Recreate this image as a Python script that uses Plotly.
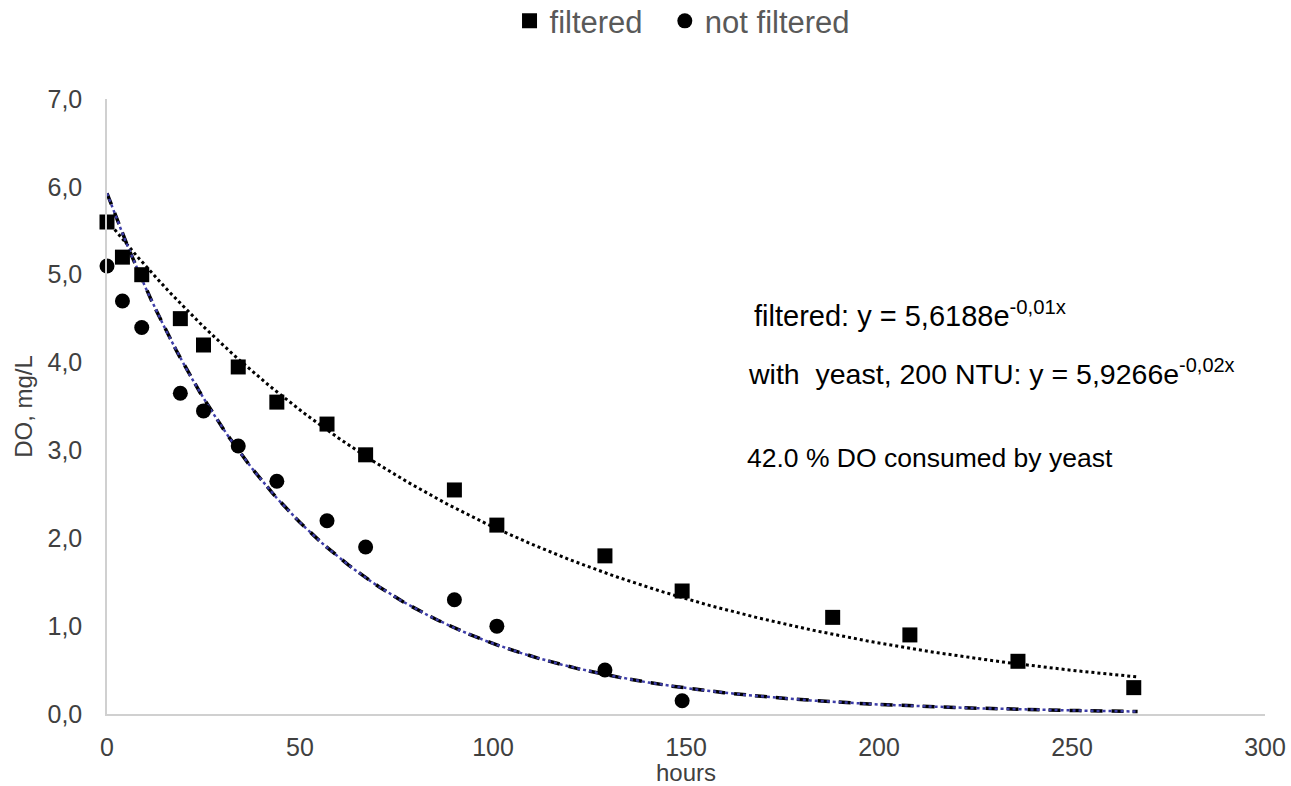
import numpy as np
import plotly.graph_objects as go

# ---- data ----
hours_filtered = [0, 4, 9, 19, 25, 34, 44, 57, 67, 90, 101, 129, 149, 188, 208, 236, 266]
do_filtered = [5.6, 5.2, 5.0, 4.5, 4.2, 3.95, 3.55, 3.3, 2.95, 2.55, 2.15, 1.8, 1.4, 1.1, 0.9, 0.6, 0.3]

hours_not_filtered = [0, 4, 9, 19, 25, 34, 44, 57, 67, 90, 101, 129, 149]
do_not_filtered = [5.1, 4.7, 4.4, 3.65, 3.45, 3.05, 2.65, 2.2, 1.9, 1.3, 1.0, 0.5, 0.15]

# exponential trendline coefficients (y = a * exp(-k x))
fit_filtered = (5.6188, 0.0097)
fit_yeast = (5.9266, 0.0200)
trend_x_range = (0, 267)

x_ticks = [0, 50, 100, 150, 200, 250, 300]
y_ticks = [0, 1, 2, 3, 4, 5, 6, 7]

FONT = "Liberation Sans, Arial, sans-serif"
GREY = "#595959"
DARK = "#404040"

tx = np.linspace(trend_x_range[0], trend_x_range[1], 300)
ty_f = fit_filtered[0] * np.exp(-fit_filtered[1] * tx)
ty_y = fit_yeast[0] * np.exp(-fit_yeast[1] * tx)

fig = go.Figure()

# trendlines
fig.add_trace(go.Scatter(x=tx, y=ty_f, mode="lines", showlegend=False, hoverinfo="skip",
                         line=dict(color="black", width=3, dash="dot")))
fig.add_trace(go.Scatter(x=tx, y=ty_y, mode="lines", showlegend=False, hoverinfo="skip",
                         line=dict(color="black", width=3.5, dash="12px,9px")))
fig.add_trace(go.Scatter(x=tx, y=ty_y, mode="lines", showlegend=False, hoverinfo="skip",
                         line=dict(color="#3d3da8", width=2.5, dash="dot")))

# data markers
fig.add_trace(go.Scatter(x=hours_filtered, y=do_filtered, mode="markers",
                         name="filtered\u00a0\u00a0",
                         cliponaxis=False,
                         marker=dict(symbol="square", size=15, color="black")))
fig.add_trace(go.Scatter(x=hours_not_filtered, y=do_not_filtered, mode="markers", name="not filtered",
                         cliponaxis=False,
                         marker=dict(symbol="circle", size=15, color="black")))

annotations = [
    dict(text="filtered: y = 5,6188e<sup>-0,01x</sup>", x=0.557, y=0.650, size=29),
    dict(text="with  yeast, 200 NTU: y = 5,9266e<sup>-0,02x</sup>", x=0.552, y=0.556, size=28.5),
    dict(text="42.0 % DO consumed by yeast", x=0.551, y=0.416, size=26.5),
]
for a in annotations:
    fig.add_annotation(xref="paper", yref="paper", x=a["x"], y=a["y"], text=a["text"],
                       showarrow=False, xanchor="left", yanchor="middle",
                       font=dict(family=FONT, size=a["size"], color="black"))

fig.update_layout(
    width=1291, height=786,
    paper_bgcolor="white", plot_bgcolor="white",
    margin=dict(l=107, r=26, t=99, b=72, autoexpand=False),
    separators=",.",
    font=dict(family=FONT, color=GREY),
    showlegend=True,
    legend=dict(orientation="h", x=0.497, xanchor="center", xref="paper",
                y=0.973, yref="container", yanchor="middle",
                font=dict(family=FONT, size=31, color=GREY),
                itemwidth=30, tracegroupgap=0),
    xaxis=dict(range=[0, 300], tickvals=x_ticks, showgrid=False, zeroline=False,
               showline=True, linecolor="#d0d0d0", linewidth=1.5, ticks="",
               automargin=False, ticklabelstandoff=10,
               tickfont=dict(family=FONT, size=25, color=DARK),
               title=dict(text="hours", font=dict(family=FONT, size=24, color=DARK), standoff=8)),
    yaxis=dict(range=[0, 7], tickvals=y_ticks, tickformat=".1f", showgrid=False, zeroline=False,
               showline=True, linecolor="#d0d0d0", linewidth=1.5, ticks="",
               automargin=False, ticklabelstandoff=18,
               tickfont=dict(family=FONT, size=25, color=DARK),
               title=dict(text="DO, mg/L", font=dict(family=FONT, size=24, color=DARK), standoff=8)),
)

fig.write_html("out.html", config={"displayModeBar": False},
               post_script="document.body.style.margin='0px';document.body.style.overflow='hidden';")
